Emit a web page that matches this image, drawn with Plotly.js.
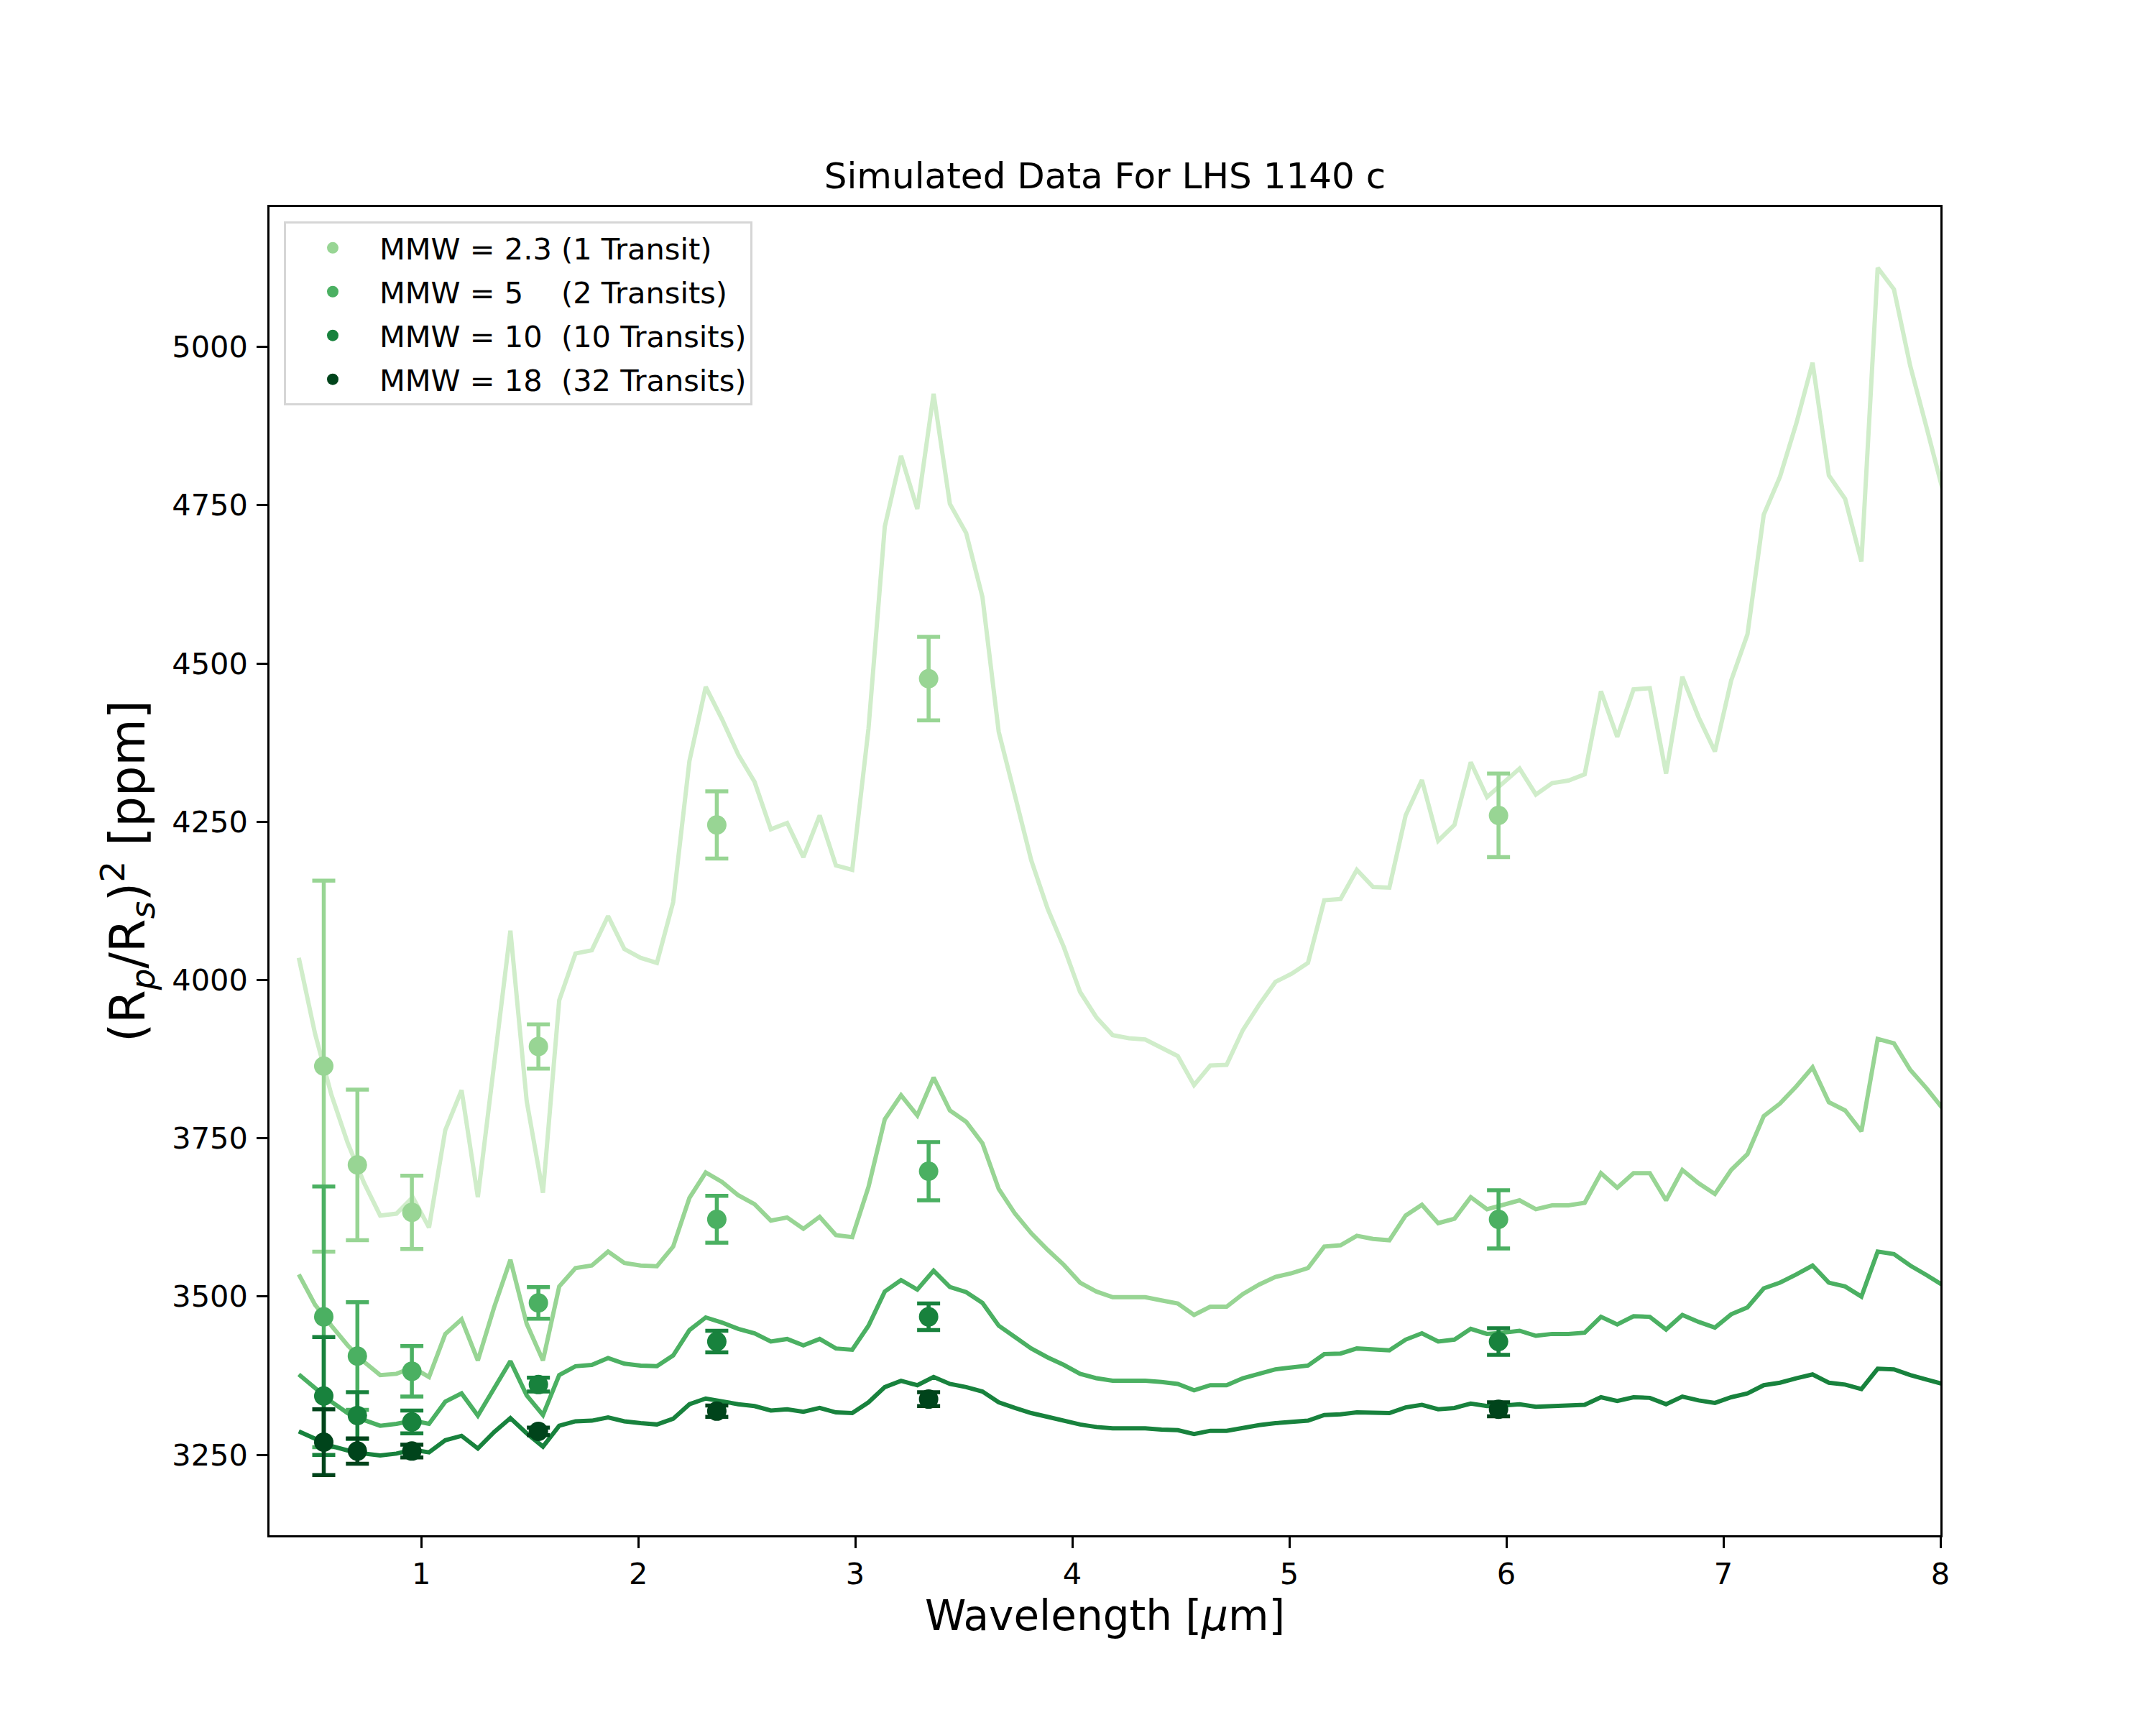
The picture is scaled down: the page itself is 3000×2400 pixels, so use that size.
<!DOCTYPE html>
<html>
<head>
<meta charset="utf-8">
<script src="https://cdn.plot.ly/plotly-3.0.1.min.js"></script>
<style>
  html, body { margin: 0; padding: 0; background: #fff; }
  #plot { width: 3000px; height: 2400px; }
</style>
</head>
<body>
<div id="plot"></div>
<script>
// model spectra, sampled on a common wavelength grid (um)
const wavelength = [
  0.436, 0.511, 0.586, 0.661, 0.736, 0.811, 0.886, 0.961, 1.036, 1.111,
  1.186, 1.261, 1.336, 1.411, 1.486, 1.561, 1.636, 1.711, 1.786, 1.861,
  1.936, 2.011, 2.086, 2.161, 2.236, 2.311, 2.386, 2.461, 2.536, 2.611,
  2.686, 2.761, 2.836, 2.911, 2.986, 3.061, 3.136, 3.211, 3.286, 3.361,
  3.436, 3.511, 3.586, 3.661, 3.736, 3.811, 3.886, 3.961, 4.036, 4.111,
  4.186, 4.261, 4.336, 4.411, 4.486, 4.561, 4.636, 4.711, 4.786, 4.861,
  4.936, 5.011, 5.086, 5.161, 5.236, 5.311, 5.386, 5.461, 5.536, 5.611,
  5.686, 5.761, 5.836, 5.911, 5.986, 6.061, 6.136, 6.211, 6.286, 6.361,
  6.436, 6.511, 6.586, 6.661, 6.736, 6.811, 6.886, 6.961, 7.036, 7.111,
  7.186, 7.261, 7.336, 7.411, 7.486, 7.561, 7.636, 7.711, 7.786, 7.861,
  7.936, 8.011
];

const modelMMW2 = [
  4035, 3915, 3819, 3743, 3680, 3628, 3631, 3657, 3609, 3763,
  3826, 3657, 3867, 4078, 3809, 3664, 3968, 4042, 4047, 4101,
  4049, 4035, 4027, 4123, 4346, 4463, 4412, 4356, 4313, 4238,
  4248, 4194, 4260, 4181, 4174, 4397, 4716, 4828, 4744, 4926,
  4752, 4706, 4605, 4392, 4291, 4189, 4113, 4052, 3981, 3941,
  3913, 3908, 3906, 3893, 3880, 3834, 3865, 3866, 3921, 3961,
  3997, 4010, 4027, 4126, 4128, 4174, 4147, 4146, 4260, 4316,
  4220, 4245, 4344, 4289, 4311, 4334, 4293, 4311, 4315, 4325,
  4456, 4384, 4459, 4461, 4326, 4479, 4415, 4361, 4473, 4546,
  4735, 4795, 4879, 4975, 4797, 4760, 4661, 5125, 5091, 4970,
  4873, 4774
];

const modelMMW5 = [
  3535, 3487, 3454, 3423, 3397, 3376, 3378, 3388, 3373, 3441,
  3464, 3399, 3483, 3558, 3457, 3399, 3516, 3545, 3549, 3571,
  3553, 3549, 3548, 3579, 3656, 3696, 3681, 3660, 3646, 3620,
  3625, 3607, 3626, 3597, 3594, 3673, 3780, 3818, 3786, 3846,
  3794, 3776, 3742, 3670, 3631, 3600, 3574, 3550, 3522, 3508,
  3499, 3499, 3499, 3494, 3489, 3471, 3484, 3484, 3504, 3519,
  3531, 3537, 3545, 3579, 3581, 3596, 3591, 3589, 3628, 3645,
  3616, 3623, 3657, 3638, 3645, 3652, 3638, 3644, 3644, 3648,
  3695, 3672, 3695, 3695, 3652, 3700, 3679, 3662, 3700, 3725,
  3785, 3805, 3832, 3862, 3807, 3794, 3761, 3907, 3900, 3858,
  3829, 3797
];

const modelMMW10 = [
  3377, 3355, 3334, 3316, 3305, 3296, 3299, 3304, 3299, 3334,
  3347, 3312, 3355, 3398, 3344, 3313, 3376, 3390, 3392, 3403,
  3394, 3391, 3390, 3407, 3447, 3467, 3459, 3449, 3442, 3429,
  3433, 3423, 3433, 3418, 3416, 3454, 3508, 3526, 3511, 3541,
  3515, 3507, 3490, 3454, 3436, 3418, 3404, 3392, 3378, 3371,
  3367, 3367, 3367, 3365, 3362, 3352, 3360, 3360, 3371, 3378,
  3385, 3388, 3391, 3409, 3410, 3418, 3416, 3415, 3432, 3442,
  3429, 3432, 3449, 3441, 3443, 3446, 3438, 3441, 3441, 3443,
  3468, 3456, 3469, 3468, 3448, 3471, 3460, 3451, 3472, 3483,
  3513, 3522, 3535, 3549, 3522, 3516, 3500, 3571, 3567, 3549,
  3534, 3518
];

const modelMMW18 = [
  3287, 3275, 3264, 3257, 3252, 3249, 3252, 3258, 3254, 3273,
  3280, 3260, 3286, 3308, 3284, 3263, 3296, 3303, 3304, 3309,
  3303, 3300, 3298, 3307, 3330, 3339, 3334, 3330, 3327, 3320,
  3322, 3318, 3324, 3317, 3316, 3333, 3357, 3367, 3360, 3373,
  3362, 3357, 3350, 3333, 3324, 3316, 3310, 3304, 3298, 3294,
  3292, 3292, 3292, 3290, 3289, 3283, 3288, 3288, 3293, 3297,
  3300, 3302, 3304, 3313, 3314, 3317, 3316, 3316, 3325, 3329,
  3322, 3324, 3331, 3327, 3328, 3330, 3326, 3327, 3327, 3329,
  3341, 3335, 3341, 3340, 3330, 3342, 3336, 3332, 3341, 3347,
  3360, 3364, 3371, 3377, 3364, 3361, 3354, 3386, 3385, 3376,
  3369, 3362
];

// simulated observations (binned)
const binWave = [0.551, 0.706, 0.957, 1.540, 2.362, 3.338, 5.964];

const simMMW2 = [3864, 3708, 3633, 3895, 4245, 4476, 4260];
const errMMW2 = [293, 119, 58, 35, 53, 66, 66];
const simMMW5 = [3468, 3406, 3382, 3490, 3622, 3698, 3622];
const errMMW5 = [206, 85, 40, 25, 37, 46, 46];
const simMMW10 = [3343, 3312, 3302, 3361, 3429, 3468, 3429];
const errMMW10 = [93, 37, 18, 11, 17, 21, 21];
const simMMW18 = [3270, 3256, 3256, 3287, 3319, 3338, 3322];
const errMMW18 = [52, 20, 10, 6, 9, 11, 11];

const legendLabels = [
  'MMW = 2.3 (1 Transit)',
  'MMW = 5\u00a0\u00a0\u00a0\u00a0(2 Transits)',
  'MMW = 10\u00a0\u00a0(10 Transits)',
  'MMW = 18\u00a0\u00a0(32 Transits)'
];

const lineColors = ['#d0edca', '#98d594', '#4bb062', '#18823d'];
const pointColors = ['#98d594', '#4bb062', '#18823d', '#00441b'];

const models = [modelMMW2, modelMMW5, modelMMW10, modelMMW18];
const sims = [simMMW2, simMMW5, simMMW10, simMMW18];
const errs = [errMMW2, errMMW5, errMMW10, errMMW18];

const FONT = 'DejaVu Sans, Verdana, sans-serif';

const traces = [];
models.forEach((model, i) => {
  // model curve
  traces.push({
    x: wavelength,
    y: model,
    type: 'scatter',
    mode: 'lines',
    line: { color: lineColors[i], width: 6 },
    showlegend: false,
    hoverinfo: 'skip'
  });
  // simulated points with error bars
  traces.push({
    x: binWave,
    y: sims[i],
    type: 'scatter',
    mode: 'markers',
    name: legendLabels[i],
    legendgroup: 'g' + i,
    marker: { color: pointColors[i], size: 27, line: { width: 0 } },
    error_y: {
      type: 'data',
      array: errs[i],
      visible: true,
      color: pointColors[i],
      thickness: 5.5,
      width: 16
    }
  });
});

const axisCommon = {
  showline: true,
  linecolor: 'black',
  linewidth: 3.3,
  mirror: true,
  ticks: 'outside',
  ticklen: 14.6,
  tickwidth: 3.3,
  tickcolor: 'black',
  showgrid: false,
  zeroline: false,
  tickfont: { family: FONT, size: 41.5, color: 'black' }
};

const layout = {
  width: 3000,
  height: 2400,
  paper_bgcolor: 'white',
  plot_bgcolor: 'white',
  margin: { l: 375, r: 300, t: 288, b: 264, pad: 0 },
  font: { family: FONT, color: 'black' },
  title: {
    text: 'Simulated Data For LHS 1140 c',
    font: { family: FONT, size: 50, color: 'black' },
    x: 0.5,
    xref: 'paper',
    y: 1,
    yref: 'paper',
    yanchor: 'bottom',
    pad: { b: 26 }
  },
  xaxis: Object.assign({}, axisCommon, {
    range: [0.301, 8],
    tickvals: [1, 2, 3, 4, 5, 6, 7, 8],
    ticklabelstandoff: 0,
    title: {
      text: 'Wavelength [<i>μ</i>m]',
      font: { family: FONT, size: 58, color: 'black' },
      standoff: 6
    }
  }),
  yaxis: Object.assign({}, axisCommon, {
    range: [3123, 5221],
    tickvals: [3250, 3500, 3750, 4000, 4250, 4500, 4750, 5000],
    ticklabelstandoff: 4,
    title: {
      text: '(R<sub><i>p</i></sub>/R<sub><i>s</i></sub>)<sup>2</sup> [ppm]',
      font: { family: FONT, size: 67, color: 'black' },
      standoff: 16
    }
  }),
  showlegend: true,
  legend: {
    x: 0.0086,
    y: 0.989,
    xanchor: 'left',
    yanchor: 'top',
    bgcolor: 'white',
    bordercolor: '#d6d6d6',
    borderwidth: 3,
    traceorder: 'grouped',
    tracegroupgap: 4,
    font: { family: FONT, size: 41.5, color: 'black' },
    itemwidth: 120
  }
};

Plotly.newPlot('plot', traces, layout, { displayModeBar: false, responsive: false });
</script>
</body>
</html>
